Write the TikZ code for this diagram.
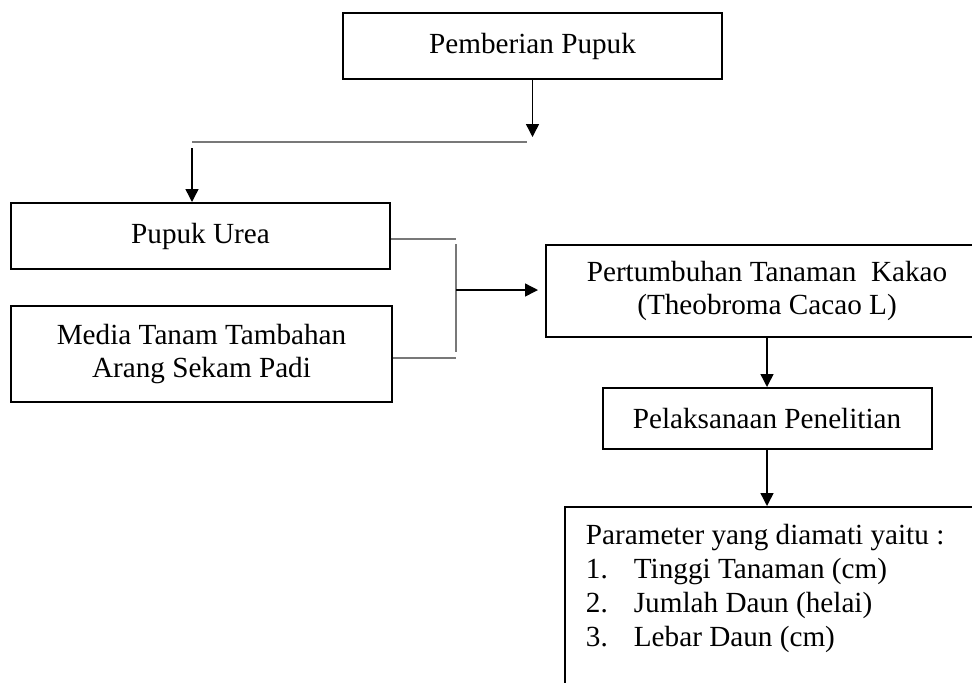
\documentclass[tikz,border=0pt]{standalone}
\usepackage{fontspec}
\setmainfont{Liberation Serif}
\usetikzlibrary{arrows.meta, positioning}
\definecolor{linegray}{RGB}{120,120,120}

\begin{document}
\begin{tikzpicture}[
  x=0.5pt, y=-0.5pt,
  node distance=24.5pt and 24pt,
  fbox/.style={draw, line width=1pt, inner sep=0pt, align=center,
               font=\fontsize{14.6}{16.5}\selectfont},
  arrow/.style={-{Triangle[length=6.5pt, width=6.5pt]}, line width=0.7pt},
  link/.style={draw=linegray, line width=0.9pt},
]
\useasboundingbox (0,0) rectangle (972,682);
\clip (0,0) rectangle (972,682);

%% Top box and split line
\node[fbox, minimum width=189.5pt, minimum height=33pt] (pupuk) at (532.5,46) {Pemberian Pupuk};
\coordinate (splitR) at (527,142);
\coordinate (splitL) at (192,142);

%% Inputs (left column)
\node[fbox, minimum width=189.5pt, minimum height=33pt] (urea) at (200.5,236) {Pupuk Urea};
\node[fbox, minimum width=190.5pt, minimum height=48pt, below=17.5pt of urea, xshift=0.5pt] (media)
  {Media Tanam Tambahan\\Arang Sekam Padi};

%% Right column
\coordinate (mergeT) at (456,244);
\coordinate (mergeB) at (456,352);
\coordinate (merge)  at (456,290);
\node[fbox, minimum width=221pt, minimum height=46pt] (tumbuh) at (767,291)
  {Pertumbuhan Tanaman\ \ Kakao\\(Theobroma Cacao L)};
\node[fbox, minimum width=164.5pt, minimum height=30.5pt, below=of tumbuh] (laksana) {Pelaksanaan Penelitian};
\node[draw, line width=1pt, minimum width=212.5pt, minimum height=98.5pt,
      below=28pt of laksana, xshift=5pt] (param) {};
\node[anchor=north west, align=left, inner sep=0pt,
      font=\fontsize{14.6}{17}\selectfont] (paramtext) at ([xshift=11pt, yshift=-9pt]param.north west)
  {Parameter yang diamati yaitu :\\
   \makebox[24pt][l]{1.}Tinggi Tanaman (cm)\\
   \makebox[24pt][l]{2.}Jumlah Daun (helai)\\
   \makebox[24pt][l]{3.}Lebar Daun (cm)};

%% Connectors
\draw[arrow, shorten >=2.5pt] (pupuk.south) -- (pupuk.south |- splitR);
\draw[link] (splitL) -- (splitR);
\draw[arrow, shorten <=3pt] (splitL) -- (splitL |- urea.north);
\draw[link] ([yshift=-1.5pt]urea.east) -- ([yshift=-1.5pt]urea.east -| merge);
\draw[link] ([yshift=-2pt]media.east) -- ([yshift=-2pt]media.east -| merge);
\draw[link] (mergeT) -- (mergeB);
\draw[arrow, shorten >=3.5pt] (merge) -- (merge -| tumbuh.west);
\draw[arrow] (tumbuh.south) -- (laksana.north);
\draw[arrow] (laksana.south) -- (laksana.south |- param.north);

\end{tikzpicture}
\end{document}
